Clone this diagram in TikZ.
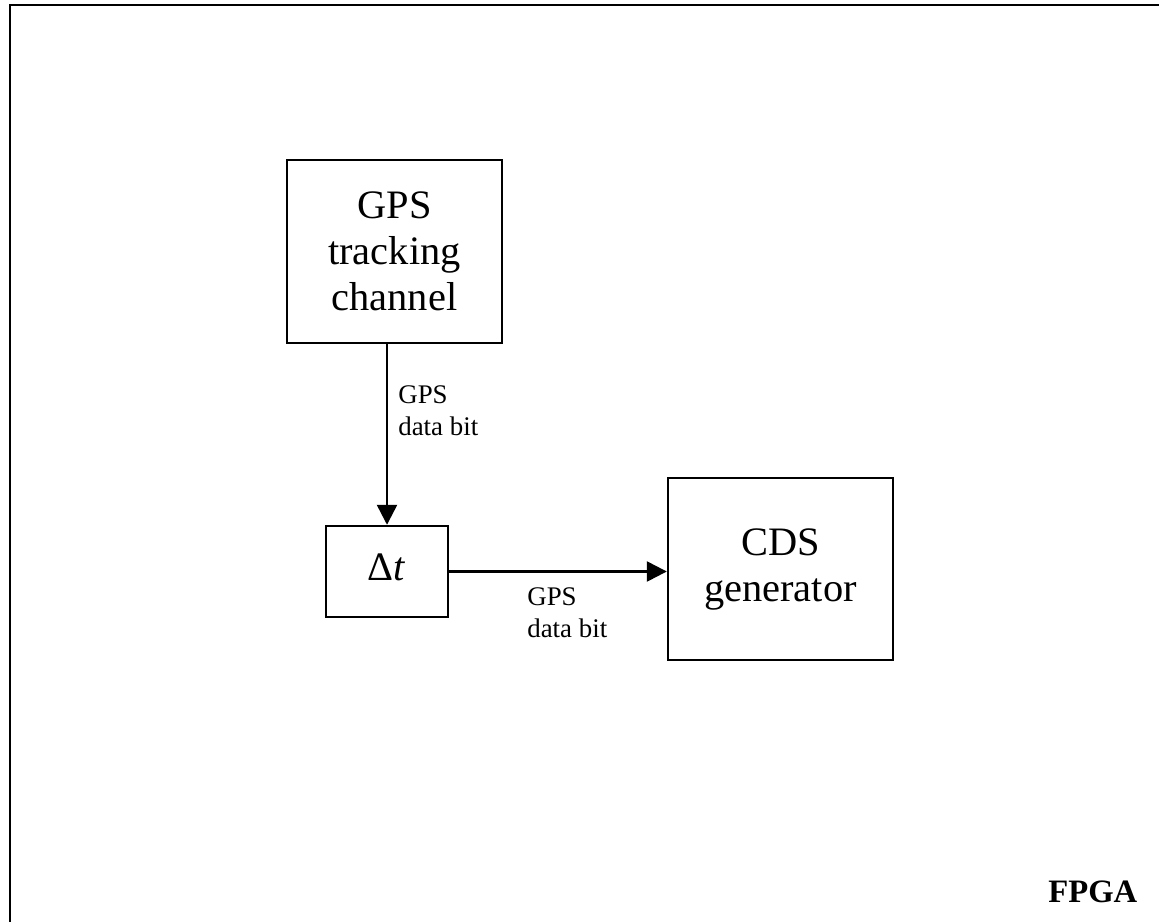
\documentclass[tikz,border=0pt]{standalone}
\usepackage{fontspec}
\setmainfont{Liberation Serif}
\usetikzlibrary{arrows.meta,positioning}

\begin{document}
\begin{tikzpicture}[
    x=0.02cm, y=-0.02cm,
    box/.style={draw, line width=1.4pt, align=center, inner sep=0pt, font=\fontsize{23}{26.2}\selectfont},
    lbl/.style={align=left, inner sep=0pt, font=\fontsize{15.3}{18.2}\selectfont},
    arr/.style={-{Triangle[length=0.4cm,width=0.4cm]}, line width=1.4pt}
]
    \useasboundingbox (0,0) rectangle (1159,922);

    % FPGA frame
    \draw[line width=1.6pt] (10,5) rectangle (1200,960);
    \node[anchor=north west, inner sep=0pt, font=\fontsize{18.6}{22}\selectfont\bfseries] (fpga) at (1048,881) {FPGA};

    % Blocks
    \node[box, minimum width=4.3cm, minimum height=3.66cm] (track) at (394.5,251.5) {GPS\\tracking\\channel};
    \node[box, minimum width=2.44cm, minimum height=1.82cm, text depth=0.5em] (delay) at (387,571.5) {Δ\textit{t}};
    \node[box, minimum width=4.5cm, minimum height=3.64cm] (cds) at (780.5,569) {CDS\\generator};

    % Data bit arrows
    \draw[arr] (track.south -| delay.north) -- (delay.north);
    \draw[arr] (delay.east) -- (cds.west |- delay.east);

    % Arrow labels
    \node[lbl, anchor=north west] (bitdown) at (398,385) {GPS\\data bit};
    \node[lbl, anchor=north west] (bitright) at (527,587) {GPS\\data bit};
\end{tikzpicture}
\end{document}
